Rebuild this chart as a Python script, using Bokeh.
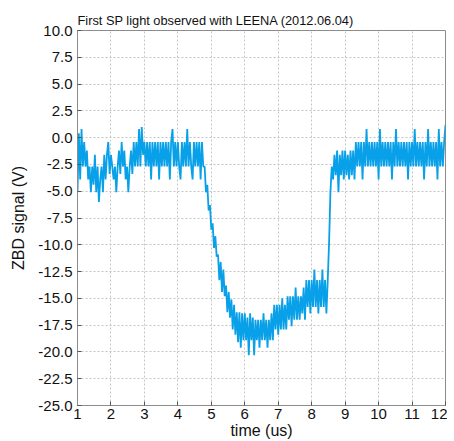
import numpy as np
from bokeh.plotting import figure
from bokeh.models import Range1d, FixedTicker, PrintfTickFormatter
from bokeh.embed import file_html
from bokeh.resources import INLINE

# ZBD signal samples (V), evenly spaced in time from 1 us to 12 us
baseline_before = [
    -5.1, 0.4, -3.9, 0.8, -2.7, -0.4, -2.7, -1.2, -3.9, -2.7,
    -5.1, -2.7, -4.4, -1.6, -5.1, -2.7, -6.0, -3.9, -2.7, -5.1,
    -1.6, -3.9, -1.6, -0.4, -3.4, -1.6, -2.7, -3.9, -2.7, -5.1,
    -2.7, -1.2, -3.4, -0.4, -2.7, -1.2, -3.9, -2.7, -5.1, -2.7,
    -1.2, -3.4, -0.4, -2.7, -0.4, -2.7, 0.8, -2.7, 1.0, -1.6,
    -0.4, -2.7, -0.4, -2.7, -0.4, -3.9, -0.4, -2.7, -0.4, -2.7,
    -0.4, -3.9, -0.4, -2.7, -0.4, -2.7, -0.4, -2.7, -0.4, -3.9,
    -0.4, 0.8, -2.7, -0.4, -2.7, -0.4, -2.7, -3.9, -0.4, -2.7,
    -0.4, -2.7, 0.8, -2.7, -0.4, -2.7, -3.9, -0.4, -2.7, -0.4,
    -2.7, -0.4, -3.9, -0.4, -2.7,
]
falling_edge = [
    -2.7, -5.1, -4.4, -6.8, -6.3, -8.6, -8.0, -10.3, -9.2, -11.1,
    -10.9, -13.3, -11.6, -14.4, -12.3, -14.8, -13.8, -16.3, -14.4, -16.8,
    -15.1, -17.9, -15.6, -18.4, -16.3, -19.1, -16.3, -19.6, -16.4, -18.9,
]
pulse_bottom = [
    -16.4, -18.9, -16.8, -20.3, -16.4, -18.9, -16.8, -20.3, -17.0, -18.9,
    -17.0, -19.6, -17.0, -18.9, -16.4, -18.9, -17.0, -19.6, -17.0, -18.9,
    -16.4, -18.9, -15.6, -17.9, -15.6, -18.4, -15.6, -17.9, -15.0, -17.9,
    -15.6, -17.9, -14.8, -17.0, -14.8, -17.6, -14.8, -17.0, -14.0, -17.0,
    -14.8, -17.0, -14.8, -16.4, -14.0, -17.0, -13.3, -15.8, -13.3, -16.4,
    -13.3, -15.8, -12.3, -15.8, -13.3, -16.4, -13.3, -15.8, -12.3, -15.8,
    -13.3, -16.4, -13.3,
]
baseline_after = [
    -9.8, -5.1, -2.7, -3.9, -1.6, -3.5, -1.2, -5.1, -1.6, -3.5,
    -1.2, -3.9, -1.2, -3.5, -1.6, -3.9, -1.2, -3.5, -1.2, -3.9,
    -0.4, -2.7, -0.4, -2.7, -0.4, -3.9, -0.4, -2.7, 0.8, -2.7,
    -0.4, -2.7, -0.4, -2.7, -0.4, -2.7, -0.4, -3.9, 0.8, -2.7,
    -0.4, -2.7, -0.4, -2.7, -0.4, -2.7, -0.4, -3.9, -0.4, -2.7,
    0.8, -2.7, -0.4, -2.7, -0.4, -2.7, -0.4, -2.7, -0.4, -3.9,
    -0.4, -2.7, -0.4, -2.7, 0.8, -2.7, -0.4, -2.7, -0.4, -2.7,
    -0.4, -3.9, -0.4, -2.7, 0.8, -2.7, -0.4, -2.7, -0.4, -2.7,
    -0.4, -3.9, 0.8, -2.7, -0.4, -2.7, -0.4, 1.2,
]
t_start, t_end = 1.0, 12.0

x_ticks = [1, 2, 3, 4, 5, 6, 7, 8, 9, 10, 11, 12]
y_ticks = [-25.0, -22.5, -20.0, -17.5, -15.0, -12.5, -10.0, -7.5, -5.0,
           -2.5, 0.0, 2.5, 5.0, 7.5, 10.0]

signal = baseline_before + falling_edge + pulse_bottom + baseline_after
time = np.linspace(t_start, t_end, len(signal))

FONT = "Liberation Sans"
GREY = "#8c8c8c"

p = figure(width=447, height=441, output_backend="svg", toolbar_location=None,
           x_range=Range1d(1, 12), y_range=Range1d(-25, 10),
           title="First SP light observed with LEENA (2012.06.04)",
           min_border_left=77, min_border_right=2, min_border_top=30,
           min_border_bottom=0)

p.title.text_font = FONT
p.title.text_font_size = "12.8px"
p.title.text_font_style = "normal"
p.title.text_color = "#111111"
p.title.align = "left"
p.title.offset = 0
p.title.standoff = 6

p.line(time, signal, line_color="#08a0e8", line_width=1.8)

p.outline_line_color = GREY
p.outline_line_width = 1
p.background_fill_color = "white"
p.border_fill_color = "white"

for ax, ticks in ((p.xaxis[0], x_ticks), (p.yaxis[0], y_ticks)):
    ax.ticker = FixedTicker(ticks=ticks)
    ax.axis_line_color = GREY
    ax.major_tick_line_color = "#555555"
    ax.major_tick_in = 4
    ax.major_tick_out = 0
    ax.minor_tick_line_color = None
    ax.major_label_text_font = FONT
    ax.major_label_text_font_size = "15px"
    ax.major_label_text_color = "#111111"
    ax.axis_label_text_font = FONT
    ax.axis_label_text_font_size = "16px"
    ax.axis_label_text_font_style = "normal"
    ax.axis_label_text_color = "#111111"

p.yaxis[0].formatter = PrintfTickFormatter(format="%.1f")
p.yaxis[0].major_label_standoff = 5
p.yaxis[0].axis_label = "ZBD signal (V)"
p.yaxis[0].axis_label_standoff = 8
p.xaxis[0].major_label_standoff = 3
p.xaxis[0].axis_label = "time (us)"
p.xaxis[0].axis_label_standoff = 0

p.xgrid.ticker = FixedTicker(ticks=x_ticks)
p.ygrid.ticker = FixedTicker(ticks=y_ticks)
p.grid.grid_line_color = "#c4c4c4"
p.grid.grid_line_dash = "2 2"
p.grid.grid_line_width = 1

open("out.html", "w").write(file_html(p, INLINE))
